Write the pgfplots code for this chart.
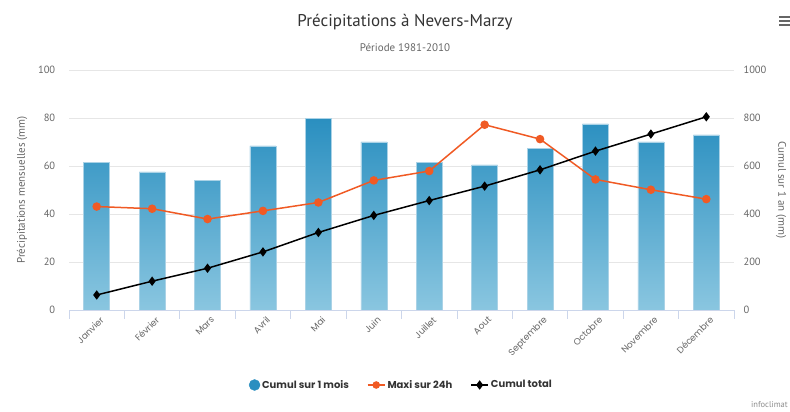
\documentclass[border=0pt]{standalone}
\usepackage{pgfplots}
\pgfplotsset{compat=1.18}
\usepackage{fontspec}
\setmainfont{PT Sans}
\newfontfamily\pop{Poppins}
\definecolor{bartop}{HTML}{2A8FC0}
\definecolor{barbot}{HTML}{8AC6E0}
\definecolor{orng}{HTML}{F05A24}
\definecolor{gridc}{HTML}{E6E6E6}
\definecolor{axc}{HTML}{CCD6EB}
\definecolor{txt}{HTML}{666666}
\definecolor{ttl}{HTML}{333333}
\begin{document}
\begin{tikzpicture}[x=1pt,y=1pt]
\useasboundingbox (0,0) rectangle (790,412);
\begin{axis}[
  at={(69pt,102pt)}, anchor=south west,
  width=665pt, height=240pt, scale only axis,
  xmin=-0.5, xmax=11.5, ymin=0, ymax=100,
  ytick={0,20,...,100},
  ymajorgrids, grid style={gridc, line width=0.8pt},
  axis x line*=bottom, axis y line*=left,
  x axis line style={axc, line width=0.8pt, -},
  y axis line style={draw=none},
  ytick style={draw=none},
  xtick={0,...,11},
  xticklabels={Janvier,Février,Mars,Avril,Mai,Juin,Juillet,Aout,Septembre,Octobre,Novembre,Décembre},
  xticklabel style={rotate=45, anchor=north east, font=\pop\fontsize{9}{10}\selectfont, text=txt, xshift=2pt, yshift=-2pt, inner sep=1pt},
  major x tick style={draw=none},
  minor xtick={-0.5,0.5,...,11.5},
  minor x tick style={axc, line width=0.8pt},
  tick align=outside, minor tick length=9pt,
  /pgf/number format/assume math mode=true,
  /pgf/number format/1000 sep={},
  yticklabel style={font=\fontsize{10.5}{12}\selectfont, text=txt, xshift=-6pt},
  legend style={at={(0.5,-0.3125)}, anchor=center, draw=none, fill=none,
    legend columns=3, font=\pop\bfseries\fontsize{10}{12}\selectfont, text=ttl,
    /tikz/every even column/.append style={column sep=16pt}},
  legend cell align=left,
]
\addplot[ybar, bar width=26pt, draw=white!60!bartop, line width=0.5pt, top color=bartop, bottom color=barbot, forget plot]
  coordinates {(0,61.6) (1,57.5) (2,54.1) (3,68.4) (4,79.7) (5,70.0) (6,61.6) (7,60.5) (8,67.3) (9,77.6) (10,70.0) (11,73.0)};
\addplot[orng, line width=1.5pt, mark=*, mark size=3.5pt, forget plot]
  coordinates {(0,43.1) (1,42.2) (2,37.9) (3,41.3) (4,44.8) (5,54.0) (6,57.9) (7,77.2) (8,71.2) (9,54.4) (10,50.1) (11,46.2)};
\addlegendimage{only marks, mark=*, mark size=5.5pt, color=bartop}
\addlegendentry{Cumul sur 1 mois}
\addlegendimage{orng, line width=1.5pt, mark=*, mark size=3pt}
\addlegendentry{Maxi sur 24h}
\addlegendimage{black, line width=1.5pt, mark=diamond*, mark size=3.5pt}
\addlegendentry{Cumul total}
\end{axis}
\begin{axis}[
  at={(69pt,102pt)}, anchor=south west,
  width=665pt, height=240pt, scale only axis,
  xmin=-0.5, xmax=11.5, ymin=0, ymax=1000,
  ytick={0,200,...,1000},
  axis y line*=right, hide x axis,
  y axis line style={draw=none},
  ytick style={draw=none},
  /pgf/number format/assume math mode=true,
  /pgf/number format/1000 sep={},
  yticklabel style={font=\fontsize{10.5}{12}\selectfont, text=txt, xshift=6pt},
]
\addplot[black, line width=1.5pt, mark=diamond*, mark size=3.5pt]
  coordinates {(0,62.6) (1,120) (2,174) (3,242) (4,323) (5,394) (6,456) (7,516) (8,584) (9,662) (10,733) (11,805)};
\end{axis}
\node[text=ttl, font=\fontsize{17}{20}\selectfont] at (405,390) {Précipitations à Nevers-Marzy};
\node[text=txt, font=\fontsize{11}{13}\selectfont] at (405,364) {Période 1981-2010};
\node[text=txt, rotate=90, font=\fontsize{11}{13}\selectfont] at (22,222) {Précipitations mensuelles (mm)};
\node[text=txt, rotate=-90, font=\fontsize{11}{13}\selectfont] at (781,222) {Cumul sur 1 an (mm)};
\node[anchor=south east, text=black!45, font=\fontsize{8.5}{10}\selectfont, inner sep=1pt] at (789,3) {infoclimat};
\fill[txt] (779,394) rectangle (790,396);
\fill[txt] (779,390) rectangle (790,392);
\fill[txt] (779,386) rectangle (790,388);
\end{tikzpicture}
\end{document}
